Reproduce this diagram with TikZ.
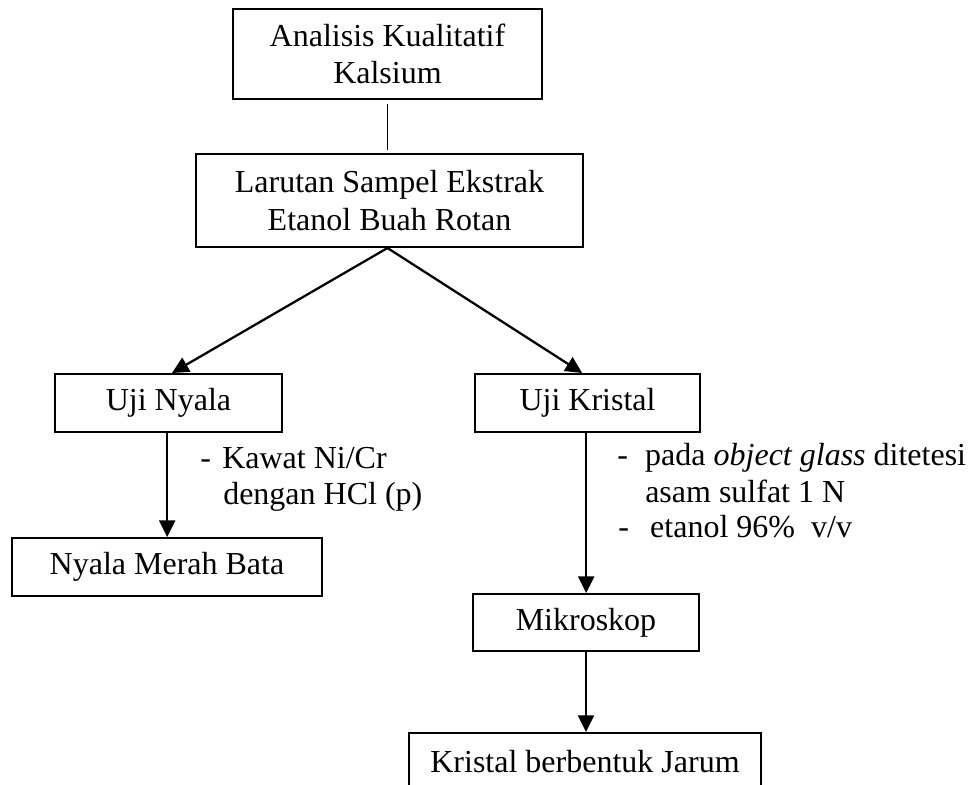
\documentclass[tikz,border=0pt]{standalone}
\usepackage{fontspec}
\setmainfont{Liberation Serif}
\usetikzlibrary{arrows.meta}
\begin{document}
\begin{tikzpicture}[x=0.75pt,y=-0.75pt,
  box/.style={draw, line width=1.5pt, inner sep=0pt, align=center,
    font=\fontsize{24}{28}\selectfont},
  note/.style={anchor=base west, inner sep=0pt, font=\fontsize{24}{27}\selectfont},
  flow/.style={line width=1.7pt, -{Triangle[length=12.5pt,width=12pt]}},
  link/.style={line width=0.9pt}]
\useasboundingbox (0,0) rectangle (978,785);

% process boxes
\node[box, minimum width=231.75pt, minimum height=67.5pt] (top) at (387.5,54)
  {Analisis Kualitatif\\Kalsium};
\node[box, minimum width=290.25pt, minimum height=69.75pt] (ext) at (389.5,200.5)
  {Larutan Sampel Ekstrak\\Etanol Buah Rotan};
\node[box, minimum width=170.25pt, minimum height=43.5pt] (nyala) at (168.5,403) {Uji Nyala};
\node[box, minimum width=168.75pt, minimum height=43.5pt] (kristal) at (587.5,403) {Uji Kristal};
\node[box, minimum width=232.5pt, minimum height=43.5pt] (merah) at (167,567) {Nyala Merah Bata};
\node[box, minimum width=169.5pt, minimum height=42.75pt] (mikro) at (586,622.5) {Mikroskop};
\node[box, minimum width=264pt, minimum height=43.5pt] (jarum) at (585,762) {Kristal berbentuk Jarum};

% side notes
\node[note] (kawat) at (200,468) {\makebox[16.5pt][l]{-}Kawat Ni/Cr};
\node[note] (hcl) at (223,504) {dengan HCl (p)};
\node[note] (pada) at (617,465) {\makebox[21pt][l]{-}pada \textit{object glass} ditetesi};
\node[note] (asam) at (645,502) {asam sulfat 1 N};
\node[note] (etanol) at (618,537) {\makebox[24pt][l]{-}etanol 96\%\ \ v/v};

% connectors
\draw[link] ([yshift=-3pt]top.south) -- ([yshift=2.25pt]top.south |- ext.north);
\draw[flow] ([xshift=-1.5pt]ext.south) -- ([xshift=2.6pt]nyala.north);
\draw[flow] ([xshift=-1.5pt]ext.south) -- ([xshift=-4pt]kristal.north);
\draw[flow] ([xshift=-1pt]nyala.south) -- ([xshift=-1pt]nyala.south |- merah.north);
\draw[flow] ([xshift=-1pt]kristal.south) -- ([xshift=-1pt]kristal.south |- mikro.north);
\draw[flow] (mikro.south) -- (mikro.south |- jarum.north);
\end{tikzpicture}
\end{document}
